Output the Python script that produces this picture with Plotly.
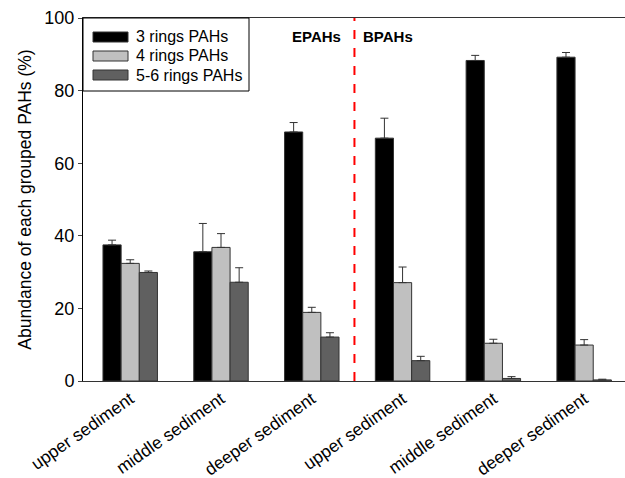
import plotly.graph_objects as go

categories = ["upper sediment", "middle sediment", "deeper sediment",
              "upper sediment ", "middle sediment ", "deeper sediment "]
tick_labels = ["upper sediment", "middle sediment", "deeper sediment",
               "upper sediment", "middle sediment", "deeper sediment"]
series_names = ["3 rings PAHs", "4 rings PAHs", "5-6 rings PAHs"]
rings3 = [37.5, 35.6, 68.6, 66.9, 88.3, 89.2]
rings3_err = [1.3, 7.8, 2.6, 5.5, 1.4, 1.3]
rings4 = [32.4, 36.8, 18.9, 27.1, 10.4, 9.9]
rings4_err = [1.0, 3.8, 1.4, 4.3, 1.1, 1.5]
rings56 = [29.9, 27.2, 12.1, 5.6, 0.7, 0.3]
rings56_err = [0.4, 4.0, 1.2, 1.2, 0.5, 0.2]
colors = ["#000000", "#c0c0c0", "#606060"]
region_labels = ["EPAHs", "BPAHs"]

FONT = "Arial, Liberation Sans, sans-serif"
x_idx = list(range(len(categories)))

fig = go.Figure()
for name, vals, errs, col in zip(series_names, [rings3, rings4, rings56],
                                 [rings3_err, rings4_err, rings56_err], colors):
    fig.add_trace(go.Bar(
        x=x_idx, y=vals, name=name,
        marker=dict(color=col, line=dict(color="#333333", width=1)),
        error_y=dict(type="data", array=errs, arrayminus=[0] * len(errs),
                     symmetric=False, color="#333333", thickness=1, width=4),
        showlegend=False,
    ))

# custom legend
shapes = []
annotations = []
W, H = 625, 478
ml, mr, mt, mb = 83, 0, 18, 97
pw, ph = W - ml - mr, H - mt - mb

def px_x(p):
    return (p - ml) / pw

def px_y(p):
    return 1 - (p - mt) / ph

shapes.append(dict(type="rect", xref="paper", yref="paper",
                   x0=px_x(83), x1=px_x(249), y0=px_y(91), y1=px_y(18),
                   line=dict(color="#000000", width=1), fillcolor="white", layer="above"))
for i, (name, col) in enumerate(zip(series_names, colors)):
    yc = 37 + i * 19
    shapes.append(dict(type="rect", xref="paper", yref="paper",
                       x0=px_x(93), x1=px_x(128), y0=px_y(yc + 5), y1=px_y(yc - 5),
                       line=dict(color="#333333", width=1), fillcolor=col, layer="above"))
    annotations.append(dict(xref="paper", yref="paper", x=px_x(134), y=px_y(yc),
                            text=name, showarrow=False, xanchor="left", yanchor="middle",
                            font=dict(family=FONT, size=16, color="#000000")))

# divider
shapes.append(dict(type="line", xref="x", yref="paper", x0=2.47, x1=2.47, y0=0, y1=1,
                   line=dict(color="#ff0000", width=2, dash="dash")))
annotations.append(dict(xref="x", yref="paper", x=2.47, y=px_y(37), text="<b>" + region_labels[0] + "</b>",
                        showarrow=False, xanchor="right", yanchor="middle", xshift=-11,
                        font=dict(family=FONT, size=15, color="#000000")))
annotations.append(dict(xref="x", yref="paper", x=2.47, y=px_y(37), text="<b>" + region_labels[1] + "</b>",
                        showarrow=False, xanchor="left", yanchor="middle", xshift=7,
                        font=dict(family=FONT, size=15, color="#000000")))

fig.update_layout(
    width=W, height=H,
    margin=dict(l=ml, r=mr, t=mt, b=mb),
    barmode="group", bargap=0.4, bargroupgap=0,
    plot_bgcolor="white", paper_bgcolor="white",
    font=dict(family=FONT, color="#000000"),
    shapes=shapes, annotations=annotations,
    xaxis=dict(range=[-0.52, 5.45], tickmode="array", tickvals=x_idx, ticktext=tick_labels,
               tickangle=-35, tickfont=dict(size=17.5, family=FONT), automargin=False,
               ticklabeloverflow="allow",
               showline=True, linecolor="#333333", linewidth=1, mirror=True,
               ticks="", showgrid=False, zeroline=False),
    yaxis=dict(range=[0, 100], dtick=20, tickfont=dict(size=18, family=FONT), automargin=False,
               ticklabeloverflow="allow",
               showline=True, linecolor="#000000", linewidth=1, ticks="outside", ticklen=4,
               showgrid=False, zeroline=False,
               title=dict(text="Abundance of each grouped PAHs (%)", font=dict(size=17.5, family=FONT),
                          standoff=8)),
)

fig.write_html("out.html")
